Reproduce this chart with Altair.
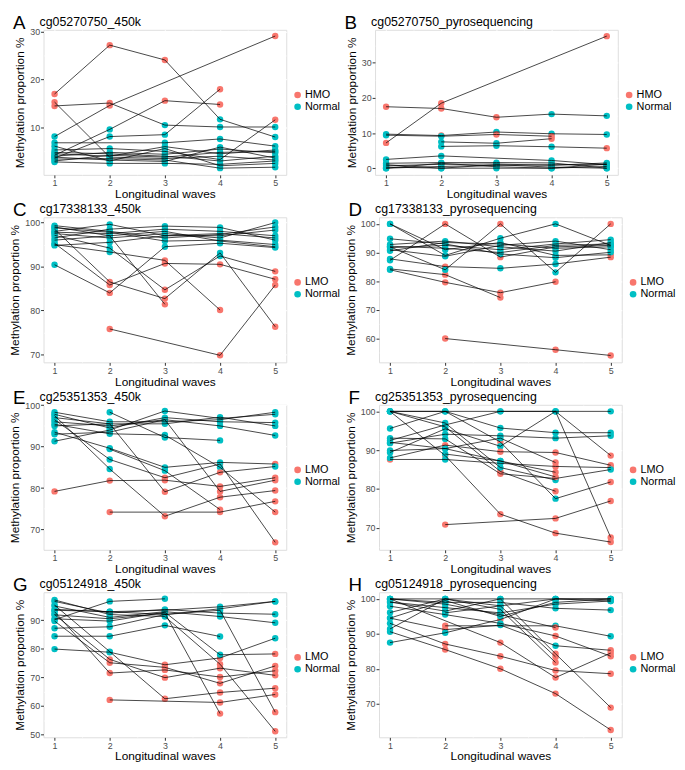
import altair as alt
import pandas as pd

WAVES = [1, 2, 3, 4, 5]
RED = "#F8766D"
TEAL = "#00BFC4"

# ---- Panel A: cg05270750_450k (HMO)
A_VALUES = [
    [17.0, 27.2, 24.1, 11.7, 8.0],
    [14.5, 15.1, 10.5, 10.1, 10.1],
    [15.3, 3.8, 3.5, 4.0, 3.2],
    [8.1, 14.6, None, None, 29.1],
    [4.2, 9.6, 15.6, 14.8, None],
    [3.6, 8.1, 8.5, 18.0, None],
    [6.8, None, 6.8, 7.6, 6.1],
    [5.3, 5.6, 5.0, 3.3, 11.6],
    [4.5, 4.0, 6.0, 4.5, 5.3],
    [4.0, 4.8, 4.4, 5.5, 4.7],
    [3.4, 3.5, 3.2, 1.5, 1.7],
    [2.8, 2.5, 2.5, 2.3, 3.0],
    [3.0, 4.2, 3.8, 4.8, 5.0],
    [6.1, 3.0, 5.6, 2.0, 2.5],
    [4.8, 4.5, 4.0, 3.0, 4.0],
    [3.8, 3.2, 2.9, 5.9, 3.6],
]
A_STATUS = ["HHHNN", "HHNNN", "HNNNN", "NHxxH", "NNHHx", "NNNHx", "NxNNN", "NNNNH",
            "NNNNN", "NNNNN", "NNNNN", "NNNNN", "NNNNN", "NNNNN", "NNNNN", "NNNNN"]

# ---- Panel B: cg05270750_pyrosequencing (HMO)
B_VALUES = [
    [7.2, 18.5, None, None, 37.6],
    [17.5, 17.0, 14.5, 15.4, 14.9],
    [9.7, 9.3, 10.3, 9.8, 9.6],
    [9.4, 9.1, 9.6, 9.1, None],
    [None, 7.5, 7.1, 8.4, None],
    [None, 6.2, 6.4, 6.1, 5.7],
    [2.5, 3.5, None, 2.2, 1.0],
    [1.4, 1.6, 1.6, 1.5, 0.0],
    [0.7, 1.1, 1.2, 0.8, 1.5],
    [0.0, 0.5, 0.8, 1.0, 1.0],
    [0.3, 0.0, 0.0, 0.0, 0.5],
    [1.0, 0.0, 1.0, 0.3, 0.0],
    [0.0, 1.4, 0.4, 0.0, 1.2],
]
B_STATUS = ["HHxxH", "HHHNN", "NHNNN", "NNHHx", "xNNHx", "xNNNH", "NNxNN",
            "NNNNN", "NNNNN", "NNNNN", "NNNNN", "NNNNN", "NNNNN"]

# ---- Panel C: cg17338133_450k (LMO)
C_VALUES = [
    [90.4, 84.0, 94.5, 95.3, 94.3],
    [None, 75.8, None, 69.8, 85.8],
    [98.5, 86.5, 82.7, 93.1, 76.3],
    [95.3, 85.8, 90.7, 90.5, 87.1],
    [95.0, 93.3, 91.4, 80.1, None],
    [97.1, 94.2, 84.7, 92.4, 88.9],
    [99.0, 97.0, 81.4, None, None],
    [98.0, 99.6, 97.0, 97.0, 98.3],
    [97.8, 97.5, 98.5, 98.0, 97.0],
    [96.5, 98.5, 99.2, 98.9, 96.0],
    [97.5, 96.5, 97.5, 96.5, 100.0],
    [98.8, 97.8, 95.8, 96.0, 95.0],
    [94.8, 95.5, 97.0, 97.5, 96.5],
    [96.0, 97.0, 98.0, 95.8, 94.5],
    [99.3, 98.0, 96.5, 97.3, 99.0],
]
C_STATUS = ["NLNNN", "xLxLL", "NLLNL", "NLLLL", "NNLLx", "NNLNL", "NNLxx",
            "NNNNN", "NNNNN", "NNNNN", "NNNNN", "NNNNN", "NNNNN", "NNNNN", "NNNNN"]

# ---- Panel D: cg17338133_pyrosequencing (LMO)
D_VALUES = [
    [None, 60.0, None, 56.1, 54.1],
    [84.0, 79.6, 76.0, 79.8, None],
    [84.3, 82.3, 74.3, None, None],
    [87.8, 85.1, 84.5, 86.0, 88.4],
    [87.3, 100.0, 88.4, 92.0, 92.5],
    [92.0, 84.0, 100.0, 83.1, 100.0],
    [100.0, 89.0, 95.0, 100.0, 92.5],
    [100.0, 91.0, 93.5, 89.0, 89.2],
    [94.8, 93.0, 89.5, 88.2, 90.1],
    [92.8, 94.0, 92.0, 90.5, 93.5],
    [91.7, 92.5, 91.0, 93.0, 94.5],
    [90.6, 93.5, 93.0, 91.5, 92.0],
    [92.2, 91.5, 90.0, 92.5, 93.0],
    [91.0, 88.7, 92.5, 94.0, 91.0],
]
D_STATUS = ["xLxLL", "NLLLx", "NLLxx", "NLNNL", "NLLNN", "NNLNL", "NNNNN", "NNNNL",
            "NNNNN", "NNNNN", "NNNNN", "NNNNN", "NNNNN", "NNNNN"]

# ---- Panel E: cg25351353_450k (LMO)
E_VALUES = [
    [79.2, 81.8, 81.9, 80.4, 82.5],
    [None, 74.2, None, 74.2, 76.8],
    [97.5, 84.6, 73.2, 77.8, 79.4],
    [96.5, 86.9, 82.5, 85.8, 66.9],
    [93.5, 89.6, 85.0, 86.2, 85.8],
    [None, 98.3, 92.2, 91.5, None],
    [95.4, 93.1, 92.8, 85.0, 74.2],
    [97.0, 95.5, 79.1, 83.8, 85.2],
    [96.0, 95.0, 96.5, 79.2, 81.9],
    [98.3, 96.0, 96.0, 96.5, 98.3],
    [97.8, 94.5, 97.0, 96.0, 95.8],
    [91.3, 94.0, 98.6, 96.8, 97.8],
    [95.0, 95.5, 95.5, 97.1, 95.0],
    [93.0, 93.5, 96.5, 95.0, 92.7],
    [None, 89.4, 84.2, 74.8, None],
]
E_STATUS = ["LLLLL", "xLxLL", "NNLLL", "NNLLL", "NNNNL", "xNNNx", "NNNNL", "NNLLN",
            "NNNLL", "NNNNN", "NNNNN", "NNNNN", "NNNNN", "NNNNN", "xNNLx"]

# ---- Panel F: cg25351353_pyrosequencing (LMO)
F_VALUES = [
    [100.0, 100.0, 100.0, 100.0, 100.0],
    [100.0, 88.6, 73.5, 68.6, 66.3],
    [None, 70.8, None, 72.4, 76.9],
    [100.0, 100.0, 92.1, 77.5, 81.8],
    [92.5, 96.5, 100.0, 100.0, 67.5],
    [89.4, 95.5, 91.0, 100.0, 88.6],
    [87.6, 87.6, 86.6, 85.8, 85.5],
    [88.0, 91.3, 89.6, 89.4, 86.1],
    [95.6, 100.0, 95.7, 94.5, 94.5],
    [100.0, 96.0, 84.5, 79.4, None],
    [93.1, 92.9, 83.9, 82.7, 85.0],
    [91.8, 94.1, 93.7, 93.1, 93.7],
    [89.9, 90.4, 93.1, 86.8, None],
    [100.0, 97.0, 85.5, 82.3, None],
    [None, 89.0, 87.2, 84.3, None],
    [92.0, 90.4, 87.2, 83.1, None],
]
F_STATUS = ["NNNNN", "NLLLL", "xLxLL", "NNLNL", "NNNNL", "NNNNL", "LNNLL", "NLLLL",
            "NNNNN", "NNLLx", "NNLLN", "NNNNN", "NNNLx", "NNNNx", "xNNLx", "NNNLx"]

# ---- Panel G: cg05124918_450k (LMO)
G_VALUES = [
    [None, 62.1, None, 61.2, 64.0],
    [95.3, 79.0, 62.5, 64.7, 66.2],
    [93.0, 71.5, 72.6, 70.1, 72.3],
    [92.0, 76.3, 69.9, 73.2, 70.7],
    [89.7, 75.1, 73.5, 67.9, 74.0],
    [79.9, 78.8, 74.4, 76.8, 83.7],
    [84.4, 84.4, 88.2, 84.3, None],
    [90.2, 96.6, 97.5, None, None],
    [93.8, 93.0, 93.5, 94.7, 96.6],
    [97.1, 92.0, 91.3, 74.6, 51.1],
    [91.9, 90.5, 92.5, 57.3, None],
    [93.5, 93.0, 92.0, 93.5, 57.8],
    [90.5, 89.7, 92.8, 77.9, 78.2],
    [96.6, 92.5, 93.8, 92.5, 92.1],
    [95.0, 91.0, 93.0, 91.3, 89.1],
    [87.2, 87.7, 92.0, 94.0, 96.6],
]
G_STATUS = ["xLxLL", "NNLLL", "NLLLL", "NLLLL", "NLLLL", "NNLLN", "NNNNx", "NNNxx",
            "NNNNN", "NNNLL", "NNNLx", "NNNNL", "NNNNL", "NNNNN", "NNNNN", "NNNNN"]

# ---- Panel H: cg05124918_pyrosequencing (LMO)
H_VALUES = [
    [90.6, 85.5, 80.0, 72.9, 62.5],
    [93.0, 87.1, 83.6, 79.5, 78.6],
    [100.0, None, 87.5, 77.5, 84.5],
    [99.1, 96.5, 100.0, 84.3, 68.9],
    [None, 92.3, None, 92.3, 89.3],
    [94.5, 91.2, 92.5, 86.6, 85.3],
    [87.5, 90.3, 94.1, 100.0, 100.0],
    [97.9, 95.5, 93.0, 89.4, 83.6],
    [100.0, 98.5, 95.5, 91.8, None],
    [96.1, 100.0, 98.0, 83.4, None],
    [91.4, 100.0, 97.0, 81.8, None],
    [100.0, 99.0, 99.0, 97.3, 96.8],
    [100.0, 100.0, 100.0, 100.0, 100.0],
    [99.1, 97.5, 96.0, 98.5, 99.4],
    [94.5, 99.5, 95.0, 99.0, 100.0],
    [None, 96.0, 98.0, 100.0, 99.4],
]
H_STATUS = ["NLLLL", "NLLLL", "NxLLL", "NNNLL", "xLxNN", "NLNNL", "NNLNN", "NNNLL",
            "NNNLx", "NNNLx", "NNNLx", "NNNNN", "NNNNN", "NNNNN", "NNNNN", "xNNNN"]

PANELS = [
    ("A", "cg05270750_450k", "HMO", A_VALUES, A_STATUS, [0.1, 30.4], [5, 10, 15, 20, 25, 30]),
    ("B", "cg05270750_pyrosequencing", "HMO", B_VALUES, B_STATUS, [-1.9, 39.4], [0, 5, 10, 15, 20, 25, 30, 35]),
    ("C", "cg17338133_450k", "LMO", C_VALUES, C_STATUS, [68.2, 101.2], [70, 75, 80, 85, 90, 95, 100]),
    ("D", "cg17338133_pyrosequencing", "LMO", D_VALUES, D_STATUS, [51.7, 102.3], [55, 60, 65, 70, 75, 80, 85, 90, 95, 100]),
    ("E", "cg25351353_450k", "LMO", E_VALUES, E_STATUS, [65.1, 100.1], [70, 75, 80, 85, 90, 95, 100]),
    ("F", "cg25351353_pyrosequencing", "LMO", F_VALUES, F_STATUS, [64.3, 101.7], [65, 70, 75, 80, 85, 90, 95, 100]),
    ("G", "cg05124918_450k", "LMO", G_VALUES, G_STATUS, [49.0, 99.8], [50, 55, 60, 65, 70, 75, 80, 85, 90, 95]),
    ("H", "cg05124918_pyrosequencing", "LMO", H_VALUES, H_STATUS, [60.4, 101.9], [65, 70, 75, 80, 85, 90, 95, 100]),
]

W, H = 246, 147
FONT = "Liberation Sans"


def cond(test, major, minor):
    return {"condition": {"test": test, "value": major}, "value": minor}


def make_panel(letter, title, red, vals, stats, dom, yticks):
    rows = []
    for i, (v, s) in enumerate(zip(vals, stats)):
        for w, val, c in zip(WAVES, v, s):
            if val is None:
                continue
            rows.append({"id": i, "wave": w, "value": val,
                         "status": "Normal" if c == "N" else red})
    df = pd.DataFrame(rows)

    xtest = "datum.value % 1 === 0"
    ytest = "datum.value % 10 === 0"
    common = dict(tickSize=3, labelPadding=1, labelFontSize=9, titleFontSize=12,
                  labelFlush=False, labelOverlap=False, titleFontWeight="normal",
                  titleFont=FONT, labelFont=FONT, titleColor="black",
                  labelColor="#4D4D4D", tickColor="#333333", domain=False,
                  gridColor="white")
    xaxis = alt.Axis(
        values=[1, 1.5, 2, 2.5, 3, 3.5, 4, 4.5, 5],
        labelExpr=f"{xtest} ? format(datum.value, 'd') : ''",
        gridWidth=cond(xtest, 1.3, 0.6),
        tickOpacity=cond(xtest, 1, 0),
        titlePadding=1, **common,
    )
    yaxis = alt.Axis(
        values=yticks,
        labelExpr=f"{ytest} ? format(datum.value, 'd') : ''",
        gridWidth=cond(ytest, 1.3, 0.6),
        tickOpacity=cond(ytest, 1, 0),
        titlePadding=3, **common,
    )
    x = alt.X("wave:Q", scale=alt.Scale(domain=[0.8, 5.2], nice=False, zero=False),
              axis=xaxis, title="Longitudinal waves")
    y = alt.Y("value:Q", scale=alt.Scale(domain=dom, nice=False, zero=False),
              axis=yaxis, title="Methylation proportion %")
    base = alt.Chart(df)
    pts = base.mark_point(filled=True, size=42, opacity=1).encode(
        x=x, y=y,
        color=alt.Color("status:N",
                        scale=alt.Scale(domain=[red, "Normal"], range=[RED, TEAL]),
                        legend=alt.Legend(orient="none", legendX=W + 6, legendY=H / 2 - 13,
                                          title=None, labelFontSize=11, symbolSize=45,
                                          symbolType="circle", rowPadding=0,
                                          labelFont=FONT, labelColor="black",
                                          symbolStrokeWidth=0, labelOffset=2)),
    )
    lines = base.mark_line(color="black", strokeWidth=0.8, opacity=0.9).encode(
        x=x, y=y, detail="id:N")
    tdf = pd.DataFrame({"letter": [letter], "name": [title], "spacer": ["Normal"]})
    lab = alt.Chart(tdf).mark_text(
        font=FONT, fontSize=19, align="left", baseline="alphabetic", color="black"
    ).encode(text="letter:N", x=alt.value(-31), y=alt.value(-1))
    name = alt.Chart(tdf).mark_text(
        font=FONT, fontSize=12.5, align="left", baseline="alphabetic", color="black"
    ).encode(text="name:N", x=alt.value(-4), y=alt.value(-4))
    # invisible text reserving room for the legend in the layout bounds
    spacer = alt.Chart(tdf).mark_text(
        font=FONT, fontSize=11, align="left", baseline="middle", opacity=0
    ).encode(text="spacer:N", x=alt.value(W + 18), y=alt.value(H / 2))
    return alt.layer(pts, lines, lab, name, spacer).properties(width=W, height=H)


charts = [make_panel(*p) for p in PANELS]
rows = [
    alt.hconcat(charts[i], charts[i + 1], spacing=2)
    .resolve_scale(color="independent", x="independent", y="independent")
    .resolve_legend(color="independent")
    for i in range(0, 8, 2)
]
chart = alt.vconcat(*rows, spacing=0).resolve_scale(
    color="independent", x="independent", y="independent"
).resolve_legend(color="independent").configure_view(
    fill="#EBEBEB", stroke=None
).configure(background="white", padding=0)

chart.save("out.html", embed_options={"renderer": "svg", "actions": False})
